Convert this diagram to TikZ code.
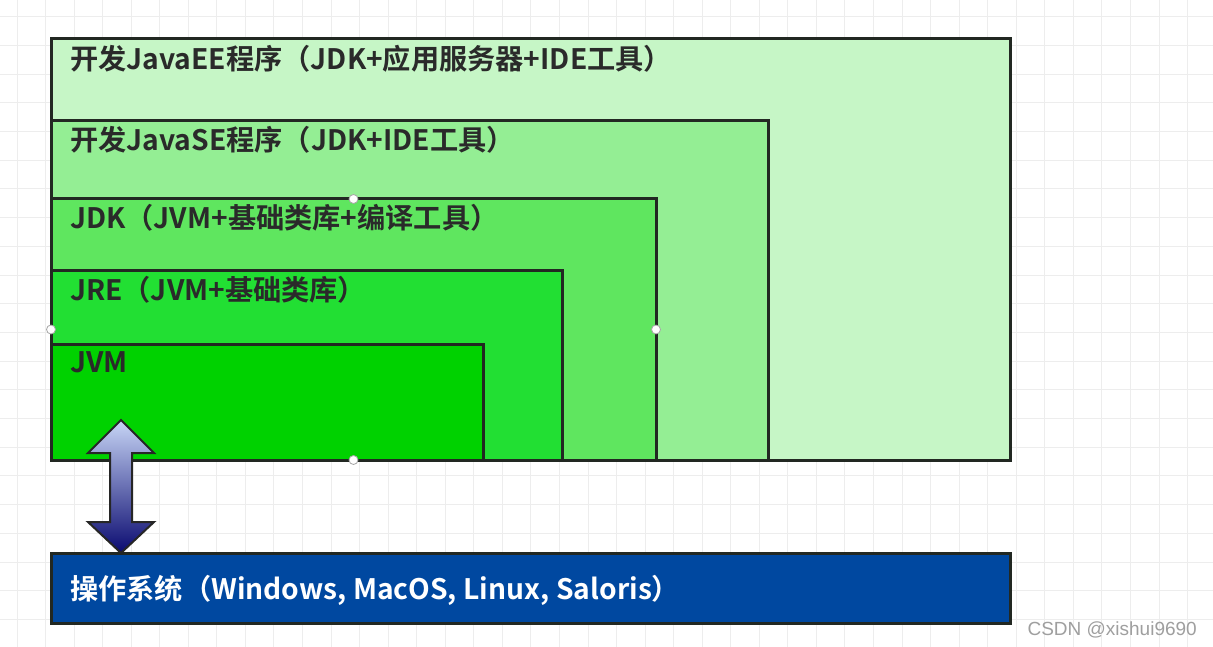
\documentclass[tikz,border=0pt]{standalone}
\usepackage{fontspec}
\usetikzlibrary{calc}
\newfontfamily\cjk{Noto Sans CJK SC}[BoldFont={Noto Sans CJK SC Bold}]
\newfontfamily\wmfont{Liberation Sans}
\definecolor{gridc}{HTML}{EDEDED}
\definecolor{eec}{HTML}{C6F6C6}
\definecolor{sec}{HTML}{94EE94}
\definecolor{jdkc}{HTML}{5FE65F}
\definecolor{jrec}{HTML}{22DF33}
\definecolor{jvmc}{HTML}{00D200}
\definecolor{osc}{HTML}{0048A0}
\definecolor{edgec}{HTML}{222822}
\definecolor{txtc}{HTML}{2A2A2A}
\definecolor{arrtop}{HTML}{C8D6F6}
\definecolor{arrbot}{HTML}{0A0A70}
\tikzset{
  gridline/.style={draw=gridc, line width=1pt},
  layerbox/.style={draw=edgec, line width=3pt, anchor=north west, inner sep=0pt, outer sep=0pt},
  title/.style={anchor=west, inner sep=0pt, text=txtc, font=\cjk\bfseries\fontsize{28.2}{33}\selectfont},
  handle/.style={circle, draw=gray!70, fill=white, line width=0.8pt, minimum size=9pt, inner sep=0pt},
}
\begin{document}
\begin{tikzpicture}[x=1pt,y=-1pt]
\useasboundingbox (0,0) rectangle (1213,647);
\fill[white] (0,0) rectangle (1213,647);
\foreach \i in {0,...,42} \draw[gridline] ({17+28.55*\i},0) -- ++(0,647);
\foreach \j in {0,...,22} \draw[gridline] (0,{16.7+28.7*\j}) -- ++(1213,0);

\node[layerbox, fill=eec, minimum width=959pt, minimum height=421pt] (ee) at (51,39) {};
\node[layerbox, fill=sec, minimum width=717pt, minimum height=339pt] (se) at (51,121) {};
\node[layerbox, fill=jdkc, minimum width=605pt, minimum height=261pt] (jdk) at (51,199) {};
\node[layerbox, fill=jrec, minimum width=511pt, minimum height=190pt] (jre) at (51,270) {};
\node[layerbox, fill=jvmc, minimum width=432pt, minimum height=116pt] (jvm) at (51,344) {};
\node[layerbox, draw=edgec, fill=osc, minimum width=959pt, minimum height=70pt] (os) at (51,553) {};

\node[title] (eet) at (70,59) {开发JavaEE程序（JDK+应用服务器+IDE工具）};
\node[title] (set) at (70,140) {开发JavaSE程序（JDK+IDE工具）};
\node[title] (jdkt) at (70,218) {JDK（JVM+基础类库+编译工具）};
\node[title] (jret) at (70,290) {JRE（JVM+基础类库）};
\node[title] (jvmt) at (70,362) {JVM};
\node[title, text=white] (ost) at (70,590) {操作系统（Windows, MacOS, Linux, Saloris）};

\coordinate (atop) at (121,420);
\coordinate (abot) at (atop |- os.north);
\shade[top color=arrtop, bottom color=arrbot, draw=black!85, line width=2pt, line join=miter]
  (atop) -- ++(33,33) -- ++(-22,0) -- ($(abot)+(11,-31)$) -- ++(22,0) -- (abot)
  -- ++(-33,-31) -- ++(22,0) -- ($(atop)+(-11,33)$) -- ++(-22,0) -- cycle;

\node[handle] (h1) at (jdk.north) {};
\node[handle] (h2) at (jdk.west) {};
\node[handle] (h3) at (jdk.east) {};
\node[handle] (h4) at (jdk.south) {};

\node[anchor=east, inner sep=0pt, text=gray!75, font=\wmfont\fontsize{19}{22}\selectfont] (wm) at (1197,630) {CSDN @xishui9690};
\end{tikzpicture}
\end{document}
